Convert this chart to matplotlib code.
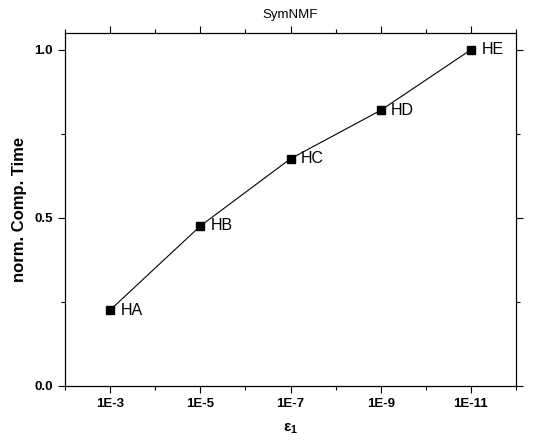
import matplotlib.pyplot as plt
from matplotlib.ticker import MultipleLocator

plt.rcParams['font.family'] = ['Liberation Sans', 'DejaVu Sans']
plt.rcParams['mathtext.fontset'] = 'custom'
plt.rcParams['mathtext.rm'] = 'Liberation Sans'
plt.rcParams['mathtext.bf'] = 'Liberation Sans:bold'

tick_labels = ['1E-3', '1E-5', '1E-7', '1E-9', '1E-11']
point_labels = ['HA', 'HB', 'HC', 'HD', 'HE']
norm_time = [0.226, 0.476, 0.676, 0.82, 1.0]
xpos = [1, 3, 5, 7, 9]

fig = plt.figure(figsize=(5.38, 4.47), dpi=100)
ax = fig.add_axes([0.121, 0.1365, 0.838, 0.7897])

ax.plot(xpos, norm_time, color='black', lw=0.8, marker='s', ms=6)
for x, y, t in zip(xpos, norm_time, point_labels):
    ax.annotate(t, (x, y), xytext=(7.5, 0), textcoords='offset points',
                ha='left', va='center', fontsize=11.5)

ax.set_xlim(0, 10)
ax.set_ylim(0, 1.05)
ax.set_xticks(xpos)
ax.set_xticklabels(tick_labels)
ax.xaxis.set_minor_locator(MultipleLocator(1))
ax.set_yticks([0.0, 0.5, 1.0])
ax.set_yticklabels(['0.0', '0.5', '1.0'])
ax.yaxis.set_minor_locator(MultipleLocator(0.25))

ax.tick_params(which='both', direction='out', top=True, right=True, width=0.8)
ax.tick_params(which='major', length=5, labelsize=9.5, pad=4)
ax.tick_params(which='minor', length=3)
for lab in ax.get_xticklabels() + ax.get_yticklabels():
    lab.set_fontweight('bold')
for s in ax.spines.values():
    s.set_linewidth(0.9)

ax.set_title('SymNMF', fontsize=9.5, pad=11)
ax.set_ylabel('norm. Comp. Time', fontsize=12, fontweight='bold', labelpad=5)
ax.set_xlabel(r'$\mathbf{\varepsilon_1}$', fontsize=11, labelpad=8)

fig.savefig('out.png', dpi=100)
